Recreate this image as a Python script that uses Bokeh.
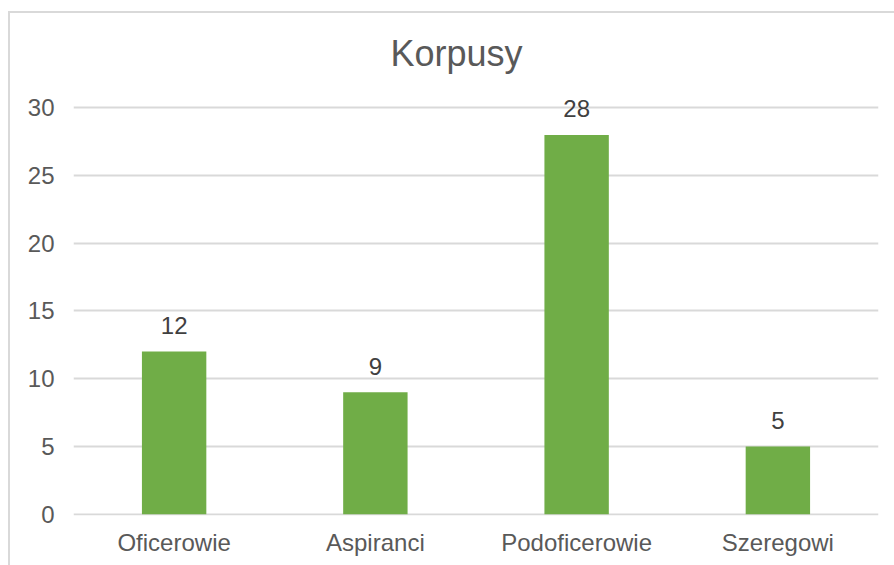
from bokeh.plotting import figure
from bokeh.models import Range1d, FixedTicker, ColumnDataSource
from bokeh.core.properties import value
from bokeh.embed import file_html
from bokeh.resources import INLINE

categories = ["Oficerowie", "Aspiranci", "Podoficerowie", "Szeregowi"]
counts = [12, 9, 28, 5]
y_ticks = [0, 5, 10, 15, 20, 25, 30]
title_text = "Korpusy"

FONT = "Liberation Sans"
BAR = "#70ad47"
GRID = "#d9d9d9"

src = ColumnDataSource(data=dict(cat=categories, val=counts, lab=[str(v) for v in counts]))

p = figure(
    x_range=categories,
    y_range=Range1d(-0.1, 31.5),
    width=894, height=565,
    output_backend="svg", toolbar_location=None,
    min_border_left=73, min_border_right=16,
    min_border_top=87, min_border_bottom=50,
)
p.outline_line_color = None
p.border_fill_color = None
p.background_fill_color = None
p.styles = {
    "background": (
        f"linear-gradient({GRID},{GRID}) 8px 11px / 100% 2px no-repeat, "
        f"linear-gradient({GRID},{GRID}) 8px 11px / 2px 100% no-repeat, white"
    )
}

p.title.text = title_text
p.title.align = "left"
p.title.offset = 317
p.title.standoff = 28
p.title.text_font = FONT
p.title.text_font_size = "36px"
p.title.text_font_style = "normal"
p.title.text_color = "#595959"

p.vbar(x="cat", top="val", width=0.32, source=src, color=BAR, line_color=None)

p.text(x="cat", y="val", text="lab", source=src,
       text_align="center", text_baseline="alphabetic", y_offset=-26,
       text_font=value(FONT), text_font_size="24px", text_color="#404040")

p.xgrid.grid_line_color = None
p.ygrid.grid_line_color = GRID
p.ygrid.grid_line_width = 2
p.yaxis.ticker = FixedTicker(ticks=y_ticks)

for ax in (p.xaxis, p.yaxis):
    ax.axis_line_color = None
    ax.major_tick_line_color = None
    ax.minor_tick_line_color = None
    ax.major_label_text_font = FONT
    ax.major_label_text_font_size = "24px"
    ax.major_label_text_color = "#595959"
p.yaxis.major_label_standoff = 13
p.xaxis.major_label_standoff = 7

open("out.html", "w").write(file_html(p, INLINE))
